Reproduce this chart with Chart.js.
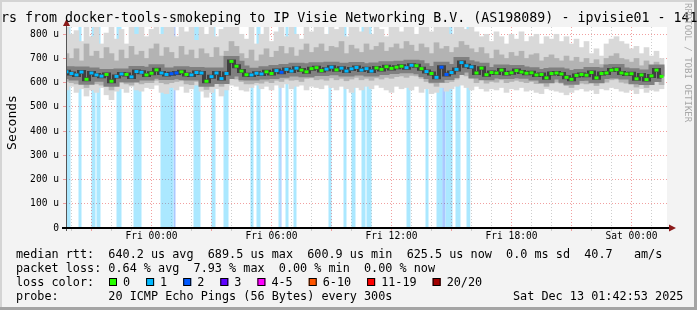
<!DOCTYPE html>
<html>
<head>
<meta charset="utf-8">
<script src="https://cdn.jsdelivr.net/npm/chart.js@4.4.1/dist/chart.umd.min.js"></script>
<style>
  html, body { margin: 0; padding: 0; background: #f3f3f3; }
  canvas { display: block; }
</style>
</head>
<body>
<canvas id="smoke" width="697" height="310"></canvas>
<script>
// samples: hours relative to Fri 00:00, one every 15 minutes
const startHour = -4.25;
const stepHour = 0.25;

// median rtt in microseconds
const median = [
  645, 638, 632, 644, 614, 640, 632, 627, 634, 606, 626, 636, 634, 624, 646, 643, 632,
  639, 653, 640, 634, 637, 640, 645, 634, 632, 642, 640, 606, 625, 640, 617, 638, 688,
  668, 648, 633, 632, 639, 636, 645, 638, 650, 643, 655, 648, 660, 652, 645, 658, 662,
  650, 656, 664, 653, 660, 648, 657, 663, 652, 658, 648, 661, 655, 666, 659, 664, 668,
  662, 672, 670, 658, 646, 638, 622, 664, 634, 642, 655, 683, 670, 665, 640, 660,
  633, 642, 640, 652, 638, 641, 650, 644, 639, 641, 632, 634, 620, 638, 640, 636, 622,
  614, 630, 634, 631, 642, 620, 638, 640, 652, 654, 640, 636, 637, 616, 632, 613, 628, 652, 626
];

// outer smoke (min / max of the pings)
const smokeHi = [
  830, 800, 815, 770, 830, 790, 830, 760, 805, 830, 780, 820, 760, 830, 800, 830, 790,
  820, 830, 800, 830, 830, 790, 830, 810, 830, 775, 830, 800, 830, 790, 820, 830, 830,
  830, 800, 780, 830, 760, 800, 830, 770, 810, 830, 790, 830, 800, 780, 830, 810, 830,
  830, 800, 830, 820, 830, 790, 830, 830, 810, 830, 800, 830, 820, 790, 830, 830, 810,
  830, 830, 800, 830, 830, 810, 830, 830, 830, 800, 830, 830, 820, 830, 810, 790,
  800, 770, 810, 790, 760, 800, 780, 810, 770, 790, 800, 760, 790, 780, 800, 770, 790,
  760, 780, 745, 770, 720, 740, 710, 760, 780, 790, 770, 760, 740, 750, 720, 745, 710, 730, 700
];
const smokeLo = [
  570, 585, 560, 575, 545, 570, 560, 580, 550, 530, 565, 575, 560, 585, 570, 565, 580,
  575, 590, 560, 555, 580, 570, 585, 560, 575, 590, 565, 540, 560, 575, 545, 570, 590,
  585, 570, 565, 580, 590, 575, 585, 570, 590, 580, 595, 575, 585, 590, 570, 585, 580,
  575, 590, 580, 570, 585, 575, 560, 580, 570, 585, 575, 590, 580, 570, 560, 585, 575,
  580, 570, 585, 560, 575, 555, 560, 580, 565, 575, 585, 590, 580, 570, 585, 575,
  565, 575, 570, 580, 560, 575, 570, 580, 565, 570, 560, 555, 575, 570, 565, 560, 550,
  560, 570, 575, 565, 570, 555, 575, 570, 580, 575, 565, 560, 570, 555, 575, 560, 570, 565, 575
];

// middle smoke band
const coreHi = [
  720, 700, 740, 690, 760, 710, 730, 700, 745, 720, 690, 735, 700, 750, 715, 730, 700,
  740, 760, 710, 745, 725, 700, 750, 715, 735, 700, 740, 720, 705, 745, 710, 730, 770,
  750, 720, 700, 735, 690, 715, 740, 705, 730, 750, 720, 745, 710, 735, 760, 725, 745,
  760, 730, 750, 745, 770, 720, 755, 740, 725, 760, 735, 750, 765, 730, 745, 760, 740,
  770, 755, 730, 760, 745, 720, 765, 740, 750, 725, 745, 770, 755, 740, 725, 745,
  720, 700, 735, 715, 700, 725, 710, 730, 700, 715, 720, 690, 705, 715, 700, 690, 710,
  690, 705, 685, 700, 680, 695, 675, 700, 710, 720, 700, 695, 685, 700, 670, 690, 670, 685, 665
];
const coreLo = [
  605, 600, 595, 605, 580, 600, 595, 590, 600, 570, 590, 600, 595, 590, 605, 595, 600,
  600, 610, 600, 595, 600, 605, 608, 595, 592, 605, 600, 572, 590, 600, 585, 600, 630,
  615, 605, 595, 595, 600, 598, 606, 600, 610, 605, 615, 610, 612, 605, 618, 620, 612,
  615, 610, 620, 612, 618, 608, 615, 622, 612, 618, 610, 620, 615, 622, 618, 625, 628,
  622, 630, 628, 618, 605, 598, 585, 620, 600, 605, 615, 640, 628, 620, 600, 615,
  598, 605, 602, 612, 600, 605, 610, 605, 600, 605, 596, 598, 585, 600, 602, 598, 588,
  580, 595, 598, 595, 605, 588, 600, 602, 612, 615, 602, 598, 600, 582, 595, 580, 592, 612, 592
];

// packet loss periods (hours) and the number of lost pings
const lossStart = [-4.25, -3.65, -3.0, -2.75, -1.75, -0.9, 0.45, 1.1, 2.1, 3.0, 3.6, 4.95, 5.25, 6.35, 6.45,
  6.7, 7.1, 8.85, 9.6, 10.0, 10.5, 10.75, 12.75, 13.7, 14.25, 14.55, 14.7, 15.2, 15.75];
const lossEnd = [-4.05, -3.5, -2.8, -2.55, -1.5, -0.5, 1.1, 1.2, 2.45, 3.2, 3.85, 5.1, 5.45, 6.45, 6.5,
  6.85, 7.25, 9.0, 9.75, 10.2, 10.7, 11.0, 12.95, 13.85, 14.55, 14.7, 15.05, 15.45, 15.95];
const lossLevel = [1, 1, 1, 1, 1, 1, 1, 2, 1, 1, 1, 1, 1, 1, 2,
  1, 1, 1, 1, 1, 1, 1, 1, 1, 1, 2, 1, 1, 1];

const lossColors = ["#26ff00", "#00b8ff", "#0059ff", "#5e00ff", "#ff00ff", "#ff5500", "#ff0000", "#a10000"];
const lossLabels = ["0", "1", "2", "3", "4-5", "6-10", "11-19", "20/20"];

const hourLabels = { 0: "Fri 00:00", 6: "Fri 06:00", 12: "Fri 12:00", 18: "Fri 18:00", 24: "Sat 00:00" };

const title = "rs from docker-tools-smokeping to IP Visie Networking B.V. (AS198089) - ipvisie01 - 141";
const statsLines = [
  "median rtt:  640.2 us avg  689.5 us max  600.9 us min  625.5 us now  0.0 ms sd  40.7   am/s",
  "packet loss: 0.64 % avg  7.93 % max  0.00 % min  0.00 % now",
  "loss color:",
  "probe:       20 ICMP Echo Pings (56 Bytes) every 300s"
];
const stamp = "Sat Dec 13 01:42:53 2025";

const yMax = 830;
const mono = "'DejaVu Sans Mono', monospace";
const pink = "rgba(235,120,120,0.7)";
const grey = "rgba(190,190,190,0.75)";

const times = median.map((_, i) => startHour + i * stepHour);
const points = (arr) => arr.map((v, i) => ({ x: times[i], y: v }));
const band = (lo, hi) => lo.map((v, i) => ({ x: times[i], y: [v, hi[i]] }));

function lossAt(h) {
  let lvl = 0;
  lossStart.forEach((s, k) => {
    if (s <= h + 0.125 && lossEnd[k] >= h - 0.125) lvl = Math.max(lvl, lossLevel[k]);
  });
  return lvl;
}

function lossArea(level) {
  const d = [];
  lossStart.forEach((s, k) => {
    if (lossLevel[k] !== level) return;
    d.push({ x: s, y: 0 }, { x: s, y: yMax }, { x: lossEnd[k], y: yMax }, { x: lossEnd[k], y: 0 });
  });
  return d;
}

const xGrid = (c) => (c.tick && Math.round(c.tick.value) % 3 !== 0 ? grey : pink);
const yGrid = (c) => (c.tick && c.tick.value % 100 !== 0 ? grey : pink);

const frame = {
  id: "frame",
  beforeDraw(chart) {
    const { ctx, chartArea: a } = chart;
    ctx.save();
    ctx.fillStyle = "#f3f3f3";
    ctx.fillRect(0, 0, 697, 310);
    ctx.fillStyle = "#d4d4d4";
    ctx.fillRect(0, 0, 697, 2);
    ctx.fillRect(0, 0, 2, 310);
    ctx.fillStyle = "#a4a4a4";
    ctx.fillRect(0, 307, 697, 3);
    ctx.fillRect(694, 0, 3, 310);
    ctx.fillStyle = "#ffffff";
    ctx.fillRect(a.left, a.top, a.right - a.left, a.bottom - a.top);
    ctx.restore();
  },
  afterDraw(chart) {
    const { ctx } = chart;
    ctx.save();

    // axes + arrows
    ctx.strokeStyle = "#555";
    ctx.lineWidth = 1;
    ctx.beginPath();
    ctx.moveTo(66.5, 231);
    ctx.lineTo(66.5, 24);
    ctx.stroke();
    ctx.fillStyle = "#000";
    ctx.fillRect(62, 227, 608, 2);
    ctx.fillStyle = "#8b1a1a";
    ctx.beginPath();
    ctx.moveTo(66.5, 19);
    ctx.lineTo(63, 26);
    ctx.lineTo(70, 26);
    ctx.closePath();
    ctx.fill();
    ctx.beginPath();
    ctx.moveTo(676, 228);
    ctx.lineTo(669, 224.5);
    ctx.lineTo(669, 231.5);
    ctx.closePath();
    ctx.fill();

    // title
    ctx.fillStyle = "#000";
    ctx.font = "13.3px " + mono;
    ctx.textAlign = "left";
    ctx.textBaseline = "alphabetic";
    ctx.fillText(title, 1, 22);

    // y axis title
    ctx.save();
    ctx.translate(15.5, 122.5);
    ctx.rotate(-Math.PI / 2);
    ctx.textAlign = "center";
    ctx.font = "13px " + mono;
    ctx.fillText("Seconds", 0, 0);
    ctx.restore();

    // watermark
    ctx.save();
    ctx.translate(684.5, 3);
    ctx.rotate(Math.PI / 2);
    ctx.textAlign = "left";
    ctx.fillStyle = "#a8a8a8";
    ctx.font = "9px " + mono;
    ctx.fillText("RRDTOOL / TOBI OETIKER", 0, 0);
    ctx.restore();

    // legend block
    ctx.font = "11.8px " + mono;
    ctx.fillStyle = "#000";
    const rows = [258, 272, 286, 299.5];
    statsLines.forEach((t, i) => ctx.fillText(t, 16, rows[i]));
    ctx.fillText(stamp, 513, rows[3]);

    let x = 109;
    lossLabels.forEach((lbl, i) => {
      ctx.fillStyle = lossColors[i];
      ctx.fillRect(x, 278, 8, 8);
      ctx.strokeStyle = "#000";
      ctx.lineWidth = 1;
      ctx.strokeRect(x + 0.5, 278.5, 7, 7);
      ctx.fillStyle = "#000";
      ctx.fillText(lbl, x + 14, rows[2]);
      x += 14 + ctx.measureText(lbl).width + 16;
    });
    ctx.restore();
  }
};

new Chart(document.getElementById("smoke").getContext("2d"), {
  type: "line",
  data: {
    datasets: [
      {
        data: points(median),
        showLine: false,
        pointStyle: "line",
        pointRadius: 2,
        pointBorderWidth: 3,
        pointBorderColor: (c) => lossColors[lossAt(times[c.dataIndex] || 0)],
        pointBackgroundColor: (c) => lossColors[lossAt(times[c.dataIndex] || 0)]
      },
      {
        data: points(median),
        borderColor: "#404040",
        borderWidth: 4,
        stepped: "middle",
        pointRadius: 0
      },
      {
        data: points(median),
        borderColor: "#808080",
        borderWidth: 11,
        stepped: "middle",
        pointRadius: 0
      },
      {
        type: "bar",
        data: band(coreLo, coreHi),
        backgroundColor: "#b3b3b3",
        grouped: false,
        barThickness: 5,
        borderWidth: 0
      },
      {
        type: "bar",
        data: band(smokeLo, smokeHi),
        backgroundColor: "#d9d9d9",
        grouped: false,
        barThickness: 5,
        borderWidth: 0
      },
      {
        data: lossArea(2),
        fill: "origin",
        backgroundColor: "rgba(0,89,255,0.33)",
        borderWidth: 0,
        pointRadius: 0
      },
      {
        data: lossArea(1),
        fill: "origin",
        backgroundColor: "rgba(0,184,255,0.33)",
        borderWidth: 0,
        pointRadius: 0
      }
    ]
  },
  options: {
    responsive: false,
    animation: false,
    devicePixelRatio: 1,
    events: [],
    layout: { padding: { top: 27, right: 30, left: 0, bottom: 0 } },
    plugins: { legend: { display: false }, tooltip: { enabled: false } },
    scales: {
      x: {
        type: "linear",
        min: -4.275,
        max: 25.775,
        offset: false,
        z: 1,
        afterFit: (s) => { s.height = 82; },
        grid: { color: xGrid, lineWidth: 1, tickLength: 3, offset: false },
        border: { display: false, dash: [1, 2] },
        ticks: {
          stepSize: 1,
          autoSkip: false,
          maxRotation: 0,
          includeBounds: false,
          padding: 0,
          color: "#000",
          font: { family: mono, size: 9.6 },
          callback: (v) => hourLabels[Math.round(v)] || ""
        }
      },
      y: {
        min: 0,
        max: yMax,
        z: 1,
        afterFit: (s) => { s.width = 66; },
        grid: { color: yGrid, lineWidth: 1, tickLength: 3 },
        border: { display: false, dash: [1, 2] },
        ticks: {
          stepSize: 50,
          includeBounds: false,
          padding: 4,
          color: "#000",
          font: { family: mono, size: 9.6 },
          callback: (v) => (v === 0 ? "0" : v % 100 === 0 ? v + " u" : "")
        }
      }
    }
  },
  plugins: [frame]
});
</script>
</body>
</html>
